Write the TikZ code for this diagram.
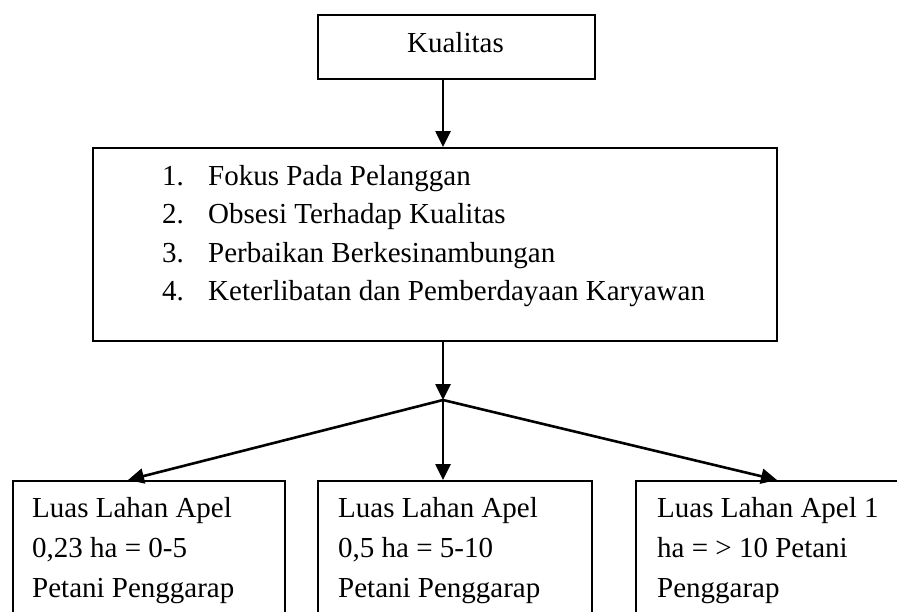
\documentclass[tikz,border=0pt]{standalone}
\usepackage{fontspec}
\setmainfont{Liberation Serif}
\usetikzlibrary{arrows.meta}
\begin{document}
\begin{tikzpicture}[x=1pt,y=-1pt,
  box/.style={draw,line width=1.8pt,inner sep=0pt,anchor=north west},
  txt/.style={inner sep=0pt,anchor=base west,font=\fontsize{29pt}{38pt}\selectfont},
  conn/.style={line width=2.6pt,-{Triangle[length=16pt,width=15pt]}}]
\clip (0,0) rectangle (897,611);
\fill[white] (0,0) rectangle (897,611);
% boxes
\node[box,minimum width=277pt,minimum height=64pt] (k) at (317,14) {};
\node[box,minimum width=684pt,minimum height=193pt] (m) at (92,147) {};
\node[box,minimum width=272pt,minimum height=160pt] (b1) at (12,480) {};
\node[box,minimum width=274pt,minimum height=160pt] (b2) at (317,480) {};
\node[box,minimum width=285pt,minimum height=160pt] (b3) at (635,480) {};
% texts
\node[txt,anchor=base] (kt) at (455.5,52) {Kualitas};
\node[txt] (n1) at (162,185) {1.};
\node[txt] (n2) at (162,223.5) {2.};
\node[txt] (n3) at (162,262) {3.};
\node[txt] (n4) at (162,300.5) {4.};
\node[txt] (i1) at (208,185) {Fokus Pada Pelanggan};
\node[txt] (i2) at (208,223.5) {Obsesi Terhadap Kualitas};
\node[txt] (i3) at (208,262) {Perbaikan Berkesinambungan};
\node[txt] (i4) at (208,300.5) {Keterlibatan dan Pemberdayaan Karyawan};
\node[txt] (a1) at (32,517) {Luas Lahan Apel};
\node[txt] (a2) at (32,557) {0,23 ha = 0-5};
\node[txt] (a3) at (32,597) {Petani Penggarap};
\node[txt] (c1) at (338,517) {Luas Lahan Apel};
\node[txt] (c2) at (338,557) {0,5 ha = 5-10};
\node[txt] (c3) at (338,597) {Petani Penggarap};
\node[txt] (d1) at (657,517) {Luas Lahan Apel 1};
\node[txt] (d2) at (657,557) {ha = > 10 Petani};
\node[txt] (d3) at (657,597) {Penggarap};
% connectors
\coordinate (fan) at (443,400);
\coordinate (t1) at (128,480);
\coordinate (t3) at (777,480);
\draw[conn] (fan |- k.south) -- (fan |- m.north);
\draw[conn] (fan |- m.south) -- (fan);
\draw[conn] (fan) -- (t1);
\draw[conn] (fan) -- (fan |- b2.north);
\draw[conn] (fan) -- (t3);
\end{tikzpicture}
\end{document}
